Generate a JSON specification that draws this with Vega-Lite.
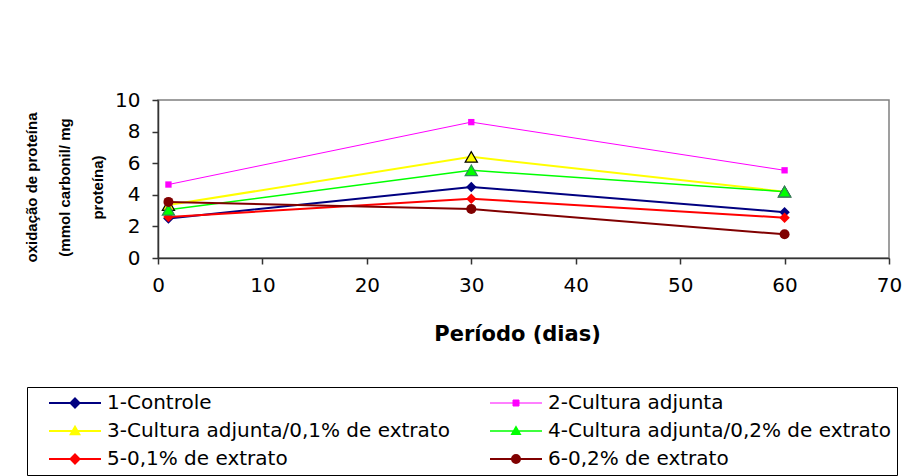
{
  "$schema": "https://vega.github.io/schema/vega-lite/v6.json",
  "width": 731,
  "height": 158,
  "autosize": {"type": "none"},
  "padding": {"left": 158, "top": 100, "right": 22, "bottom": 218},
  "background": "white",
  "data": {
    "values": [
      {"serie": "1-Controle", "dia": 1, "valor": 2.5},
      {"serie": "1-Controle", "dia": 30, "valor": 4.5},
      {"serie": "1-Controle", "dia": 60, "valor": 2.9},
      {"serie": "2-Cultura adjunta", "dia": 1, "valor": 4.65},
      {"serie": "2-Cultura adjunta", "dia": 30, "valor": 8.6},
      {"serie": "2-Cultura adjunta", "dia": 60, "valor": 5.55},
      {"serie": "3-Cultura adjunta/0,1% de extrato", "dia": 1, "valor": 3.35},
      {"serie": "3-Cultura adjunta/0,1% de extrato", "dia": 30, "valor": 6.4},
      {"serie": "3-Cultura adjunta/0,1% de extrato", "dia": 60, "valor": 4.2},
      {"serie": "4-Cultura adjunta/0,2% de extrato", "dia": 1, "valor": 3.05},
      {"serie": "4-Cultura adjunta/0,2% de extrato", "dia": 30, "valor": 5.55},
      {"serie": "4-Cultura adjunta/0,2% de extrato", "dia": 60, "valor": 4.2},
      {"serie": "5-0,1% de extrato", "dia": 1, "valor": 2.6},
      {"serie": "5-0,1% de extrato", "dia": 30, "valor": 3.75},
      {"serie": "5-0,1% de extrato", "dia": 60, "valor": 2.55},
      {"serie": "6-0,2% de extrato", "dia": 1, "valor": 3.55},
      {"serie": "6-0,2% de extrato", "dia": 30, "valor": 3.1},
      {"serie": "6-0,2% de extrato", "dia": 60, "valor": 1.5}
    ]
  },
  "encoding": {
    "x": {
      "field": "dia", "type": "quantitative",
      "scale": {"domain": [0, 70], "nice": false, "zero": false},
      "axis": {
        "title": "Período (dias)",
        "values": [0, 10, 20, 30, 40, 50, 60, 70],
        "grid": false,
        "tickSize": 6,
        "labelPadding": 11,
        "labelFlush": false,
        "titlePadding": 28,
        "titleX": 359
      }
    },
    "y": {
      "field": "valor", "type": "quantitative",
      "scale": {"domain": [0, 10], "nice": false},
      "axis": {
        "title": ["oxidação de proteína", "(mmol carbonil/ mg", "proteína)"],
        "values": [0, 2, 4, 6, 8, 10],
        "grid": false,
        "tickSize": 6,
        "labelPadding": 12,
        "labelFlush": false,
        "titleFont": "Liberation Sans",
        "titleFontSize": 15,
        "titleLineHeight": 33,
        "titlePadding": 9,
        "titleY": 87
      }
    },
    "color": {
      "field": "serie", "type": "nominal",
      "scale": {
        "domain": ["1-Controle", "2-Cultura adjunta", "3-Cultura adjunta/0,1% de extrato", "4-Cultura adjunta/0,2% de extrato", "5-0,1% de extrato", "6-0,2% de extrato"],
        "range": ["#000080", "#FF00FF", "#FFFF00", "#00FF00", "#FF0000", "#800000"]
      },
      "legend": {
        "title": null,
        "orient": "none",
        "legendX": -131,
        "legendY": 287,
        "direction": "horizontal",
        "columns": 2,
        "columnPadding": 24,
        "rowPadding": 8,
        "padding": 6,
        "strokeColor": "#000000",
        "fillColor": "white",
        "labelFont": "DejaVu Sans",
        "labelFontSize": 20,
        "labelColor": "#000000",
        "labelLimit": 500,
        "symbolSize": 100,
        "symbolOffset": 32,
        "labelOffset": 22,
        "encode": {
          "symbols": {
            "update": {
              "shape": {"signal": "substring(datum.value,0,1)=='1' || substring(datum.value,0,1)=='5' ? 'M-5.2,0H5.2M0,-0.9L0.9,0L0,0.9L-0.9,0Z' : substring(datum.value,0,1)=='2' ? 'M-5.2,0H5.2M-0.6,-0.6H0.6V0.6H-0.6Z' : substring(datum.value,0,1)=='6' ? 'M-5.2,0H5.2M0.8,0A0.8,0.8,0,1,1,-0.8,0A0.8,0.8,0,1,1,0.8,0Z' : 'M-5.2,0H5.2M0,-0.85L0.85,0.65H-0.85Z'"},
              "fill": {"scale": "color", "field": "value"},
              "stroke": {"scale": "color", "field": "value"},
              "strokeWidth": {"signal": "substring(datum.value,0,1)=='2' ? 1 : 1.6"},
              "opacity": {"value": 1},
              "fillOpacity": {"value": 1},
              "strokeOpacity": {"value": 1}
            }
          }
        }
      }
    }
  },
  "layer": [
    {
      "mark": {"type": "line"},
      "encoding": {
        "strokeWidth": {
          "field": "serie", "type": "nominal",
          "scale": {
            "type": "ordinal",
            "domain": ["1-Controle", "2-Cultura adjunta", "3-Cultura adjunta/0,1% de extrato", "4-Cultura adjunta/0,2% de extrato", "5-0,1% de extrato", "6-0,2% de extrato"],
            "range": [2, 1, 2, 1.5, 2, 2]
          },
          "legend": null
        }
      }
    },
    {
      "transform": [{"filter": "datum.serie == '1-Controle' || datum.serie == '5-0,1% de extrato'"}],
      "mark": {"type": "point", "filled": true, "opacity": 1, "shape": "diamond", "size": 110}
    },
    {
      "transform": [{"filter": "datum.serie == '2-Cultura adjunta'"}],
      "mark": {"type": "point", "filled": true, "opacity": 1, "shape": "square", "size": 40}
    },
    {
      "transform": [{"filter": "datum.serie == '3-Cultura adjunta/0,1% de extrato'"}],
      "mark": {"type": "point", "filled": true, "opacity": 1, "shape": "triangle-up", "size": 150, "stroke": "#000000", "strokeWidth": 1.2}
    },
    {
      "transform": [{"filter": "datum.serie == '4-Cultura adjunta/0,2% de extrato'"}],
      "mark": {"type": "point", "filled": true, "opacity": 1, "shape": "triangle-up", "size": 150, "stroke": "#2E8B57", "strokeWidth": 1.2}
    },
    {
      "transform": [{"filter": "datum.serie == '6-0,2% de extrato'"}],
      "mark": {"type": "point", "filled": true, "opacity": 1, "shape": "circle", "size": 100}
    }
  ],
  "config": {
    "view": {"stroke": "#808080", "strokeWidth": 1.5},
    "axis": {
      "domainColor": "#333333",
      "domainWidth": 1.5,
      "tickColor": "#333333",
      "tickWidth": 1.5,
      "labelFont": "DejaVu Sans",
      "labelFontSize": 20,
      "labelColor": "#000000",
      "titleFont": "DejaVu Sans",
      "titleFontSize": 21,
      "titleFontWeight": "bold",
      "titleColor": "#000000"
    }
  }
}
